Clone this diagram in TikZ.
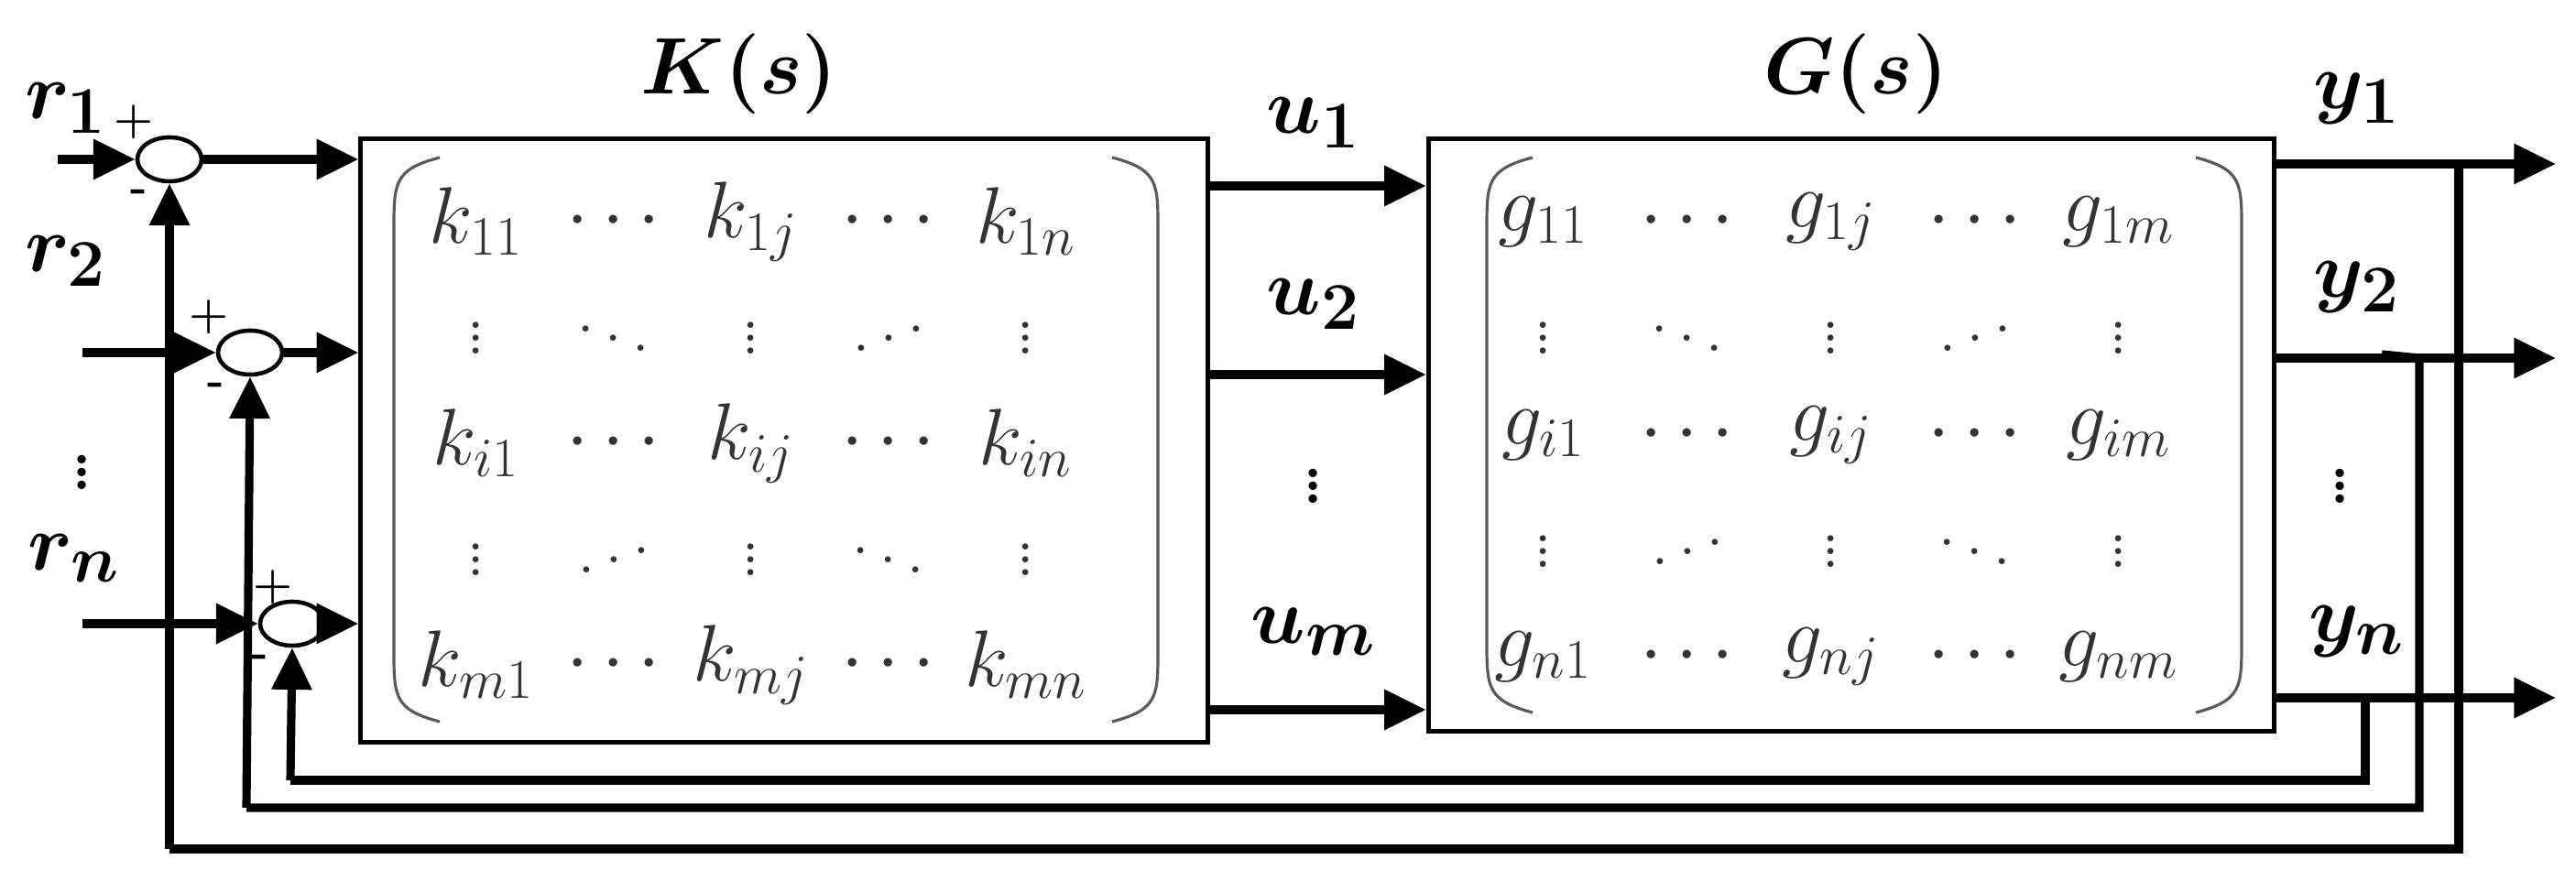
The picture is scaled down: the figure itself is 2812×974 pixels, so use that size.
\documentclass[tikz,border=0pt]{standalone}
\usetikzlibrary{shapes.geometric,arrows.meta}
\newcommand{\myidd}{\mathinner{\reflectbox{$\ddots$}}}
\begin{document}
\begin{tikzpicture}[x=0.01cm,y=-0.01cm,
  sum/.style={ellipse,draw,line width=1.3pt,minimum width=0.7cm,minimum height=0.48cm,inner sep=0pt},
  blk/.style={draw,line width=1.4pt,rectangle,inner sep=0pt},
  sig/.style={line width=2.6pt,-{Triangle[length=13pt,width=12pt]}},
  wire/.style={line width=2.6pt},
  lab/.style={font=\fontsize{32}{38}\selectfont\boldmath,inner sep=1pt},
  ent/.style={font=\fontsize{23}{27}\selectfont,text=black!80,inner sep=1pt},
  pm/.style={font=\fontsize{14}{16}\selectfont\bfseries,inner sep=0pt},
  par/.style={draw=black!65,line width=0.9pt}]
\useasboundingbox (0,0) rectangle (2812,974);
% sums
\node[sum] (s1) at (185,174) {};
\node[sum] (s2) at (273,385) {};
\node[sum] (s3) at (319,681) {};
% blocks
\node[blk,minimum width=9.24cm,minimum height=6.58cm] (K) at (856,481) {};
\node[blk,minimum width=9.23cm,minimum height=6.46cm] (G) at (2021,475) {};
% inputs
\coordinate (i1) at (63,174); \coordinate (i2) at (90,385); \coordinate (i3) at (90,681);
\draw[sig] (i1) -- (s1.west);
\draw[sig] (i2) -- (s2.west);
\draw[sig] (i3) -- (s3.west);
\draw[sig] (s1.east) -- (s1.east -| K.west);
\draw[sig] (s2.east) -- (s2.east -| K.west);
\draw[sig] (s3.east) -- (s3.east -| K.west);
% K to G
\coordinate (k1) at (1318,203); \coordinate (k2) at (1318,409); \coordinate (k3) at (1318,775);
\draw[sig] (k1) -- (k1 -| G.west);
\draw[sig] (k2) -- (k2 -| G.west);
\draw[sig] (k3) -- (k3 -| G.west);
% outputs
\coordinate (g1) at (2483,179); \coordinate (g2) at (2483,391); \coordinate (g3) at (2483,762);
\coordinate (o1) at (2790,179); \coordinate (o2) at (2790,391); \coordinate (o3) at (2790,762);
\draw[sig] (g1) -- (o1);
\draw[sig] (g2) -- (o2);
\draw[sig] (g3) -- (o3);
% feedback
\coordinate (t1) at (2684,179); \coordinate (t2) at (2641,391); \coordinate (t3) at (2582,762);
\draw[wire] (t1) -- (2684,927) -- (185,927) coordinate (f1);
\draw[sig] (f1) -- (s1.south);
\draw[wire] (2600,387) -- (t2) -- (2641,882) -- (269,882) coordinate (f2);
\draw[sig] (f2) -- (s2.south);
\draw[wire] (t3) -- (2582,852) -- (317,852) coordinate (f3);
\draw[sig] (f3) -- (s3.south);
% signs
\node[pm] at (146,133) {+}; \node[pm] at (152,214) {-};
\node[pm] at (228,346) {+}; \node[pm] at (236,425) {-};
\node[pm] at (298,641) {+}; \node[pm] at (284,722) {-};
% labels
\node[lab] at (807,81) {$K(s)$};
\node[lab] at (2026,81) {$G(s)$};
\node[lab] at (72,118) {$r_1$};
\node[lab] at (72,285) {$r_2$};
\node[lab] at (90,505) {$\vdots$};
\node[lab] at (81,610) {$r_n$};
\node[lab] at (1434,134) {$u_1$};
\node[lab] at (1434,332) {$u_2$};
\node[lab] at (1434,520) {$\vdots$};
\node[lab] at (1434,690) {$u_m$};
\node[lab] at (2573,108) {$y_1$};
\node[lab] at (2573,314) {$y_2$};
\node[lab] at (2555,520) {$\vdots$};
\node[lab] at (2573,690) {$y_n$};
% K matrix
\foreach \t [count=\i] in {{k_{11}},{\cdots},{k_{1j}},{\cdots},{k_{1n}}} {\node[ent] (ka\i) at ({520+(\i-1)*150},242) {$\t$};}
\foreach \t [count=\i] in {{\vdots},{\ddots},{\vdots},{\myidd},{\vdots}} {\node[ent] (kb\i) at ({520+(\i-1)*150},359) {$\t$};}
\foreach \t [count=\i] in {{k_{i1}},{\cdots},{k_{ij}},{\cdots},{k_{in}}} {\node[ent] (kc\i) at ({520+(\i-1)*150},484) {$\t$};}
\foreach \t [count=\i] in {{\vdots},{\myidd},{\vdots},{\ddots},{\vdots}} {\node[ent] (kd\i) at ({520+(\i-1)*150},601) {$\t$};}
\foreach \t [count=\i] in {{k_{m1}},{\cdots},{k_{mj}},{\cdots},{k_{mn}}} {\node[ent] (ke\i) at ({520+(\i-1)*150},726) {$\t$};}
% G matrix
\foreach \t [count=\i] in {{g_{11}},{\cdots},{g_{1j}},{\cdots},{g_{1m}}} {\node[ent] (ga\i) at ({1685+(\i-1)*157},242) {$\t$};}
\foreach \t [count=\i] in {{\vdots},{\ddots},{\vdots},{\myidd},{\vdots}} {\node[ent] (gb\i) at ({1685+(\i-1)*157},359) {$\t$};}
\foreach \t [count=\i] in {{g_{i1}},{\cdots},{g_{ij}},{\cdots},{g_{im}}} {\node[ent] (gc\i) at ({1685+(\i-1)*157},475) {$\t$};}
\foreach \t [count=\i] in {{\vdots},{\myidd},{\vdots},{\ddots},{\vdots}} {\node[ent] (gd\i) at ({1685+(\i-1)*157},592) {$\t$};}
\foreach \t [count=\i] in {{g_{n1}},{\cdots},{g_{nj}},{\cdots},{g_{nm}}} {\node[ent] (ge\i) at ({1685+(\i-1)*157},717) {$\t$};}
% parentheses
\draw[par] (480,172) .. controls (430,185) and (430,200) .. (430,250) -- (430,710) .. controls (430,760) and (430,775) .. (480,788);
\draw[par] (1214,172) .. controls (1264,185) and (1264,200) .. (1264,250) -- (1264,710) .. controls (1264,760) and (1264,775) .. (1214,788);
\draw[par] (1673,172) .. controls (1623,185) and (1623,200) .. (1623,250) -- (1623,700) .. controls (1623,750) and (1623,765) .. (1673,778);
\draw[par] (2397,172) .. controls (2447,185) and (2447,200) .. (2447,250) -- (2447,700) .. controls (2447,750) and (2447,765) .. (2397,778);
\end{tikzpicture}
\end{document}
